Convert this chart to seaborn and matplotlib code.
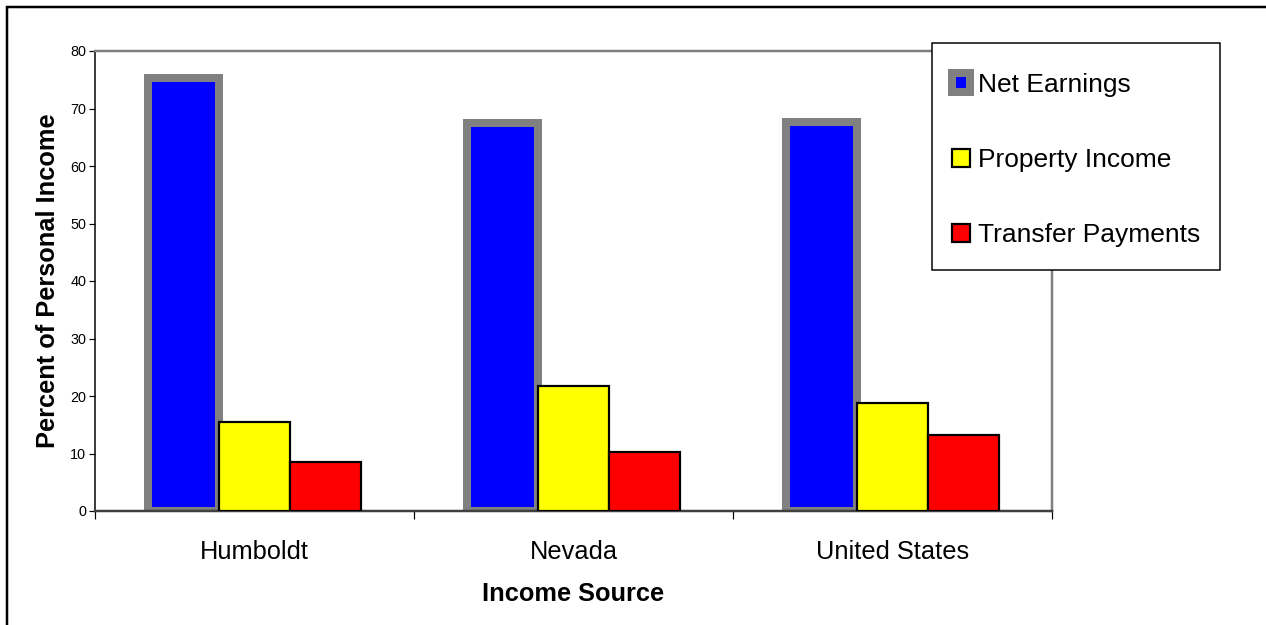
import matplotlib
matplotlib.use("Agg")
import matplotlib.pyplot as plt
from matplotlib.patches import Rectangle
import pandas as pd
import seaborn as sns

regions = ["Humboldt", "Nevada", "United States"]
sources = ["Net Earnings", "Property Income", "Transfer Payments"]
net_earnings = [75.3, 67.5, 67.7]
property_income = [15.5, 21.7, 18.7]
transfer_payments = [8.5, 10.3, 13.3]
colors = ["#0000FF", "#FFFF00", "#FF0000"]

df = pd.DataFrame({
    "Region": regions * 3,
    "Source": [s for s in sources for _ in regions],
    "Percent": net_earnings + property_income + transfer_payments,
})

sns.set_theme(style="white")
plt.rcParams["font.family"] = ["Liberation Sans", "DejaVu Sans"]
plt.rcParams["text.color"] = "black"
plt.rcParams["axes.labelcolor"] = "black"

DPI = 100
px = 72 / DPI  # points per pixel
W, H = 1266, 625
fig = plt.figure(figsize=(W / DPI, H / DPI), dpi=DPI)
ax = fig.add_axes([95 / W, 1 - 511 / H, (1052 - 95) / W, (511 - 51) / H])

sns.barplot(data=df, x="Region", y="Percent", hue="Source", order=regions,
            hue_order=sources, palette=colors, width=0.667, gap=0,
            saturation=1, legend=False, ax=ax)

# thick grey frame on the earnings bars, thin black outline on the others
for i, cont in enumerate(ax.containers):
    for bar in cont.patches:
        if i == 0:
            bar.set_edgecolor("#808080")
            bar.set_linewidth(8 * px)
        else:
            bar.set_edgecolor("black")
            bar.set_linewidth(2.2 * px)
            bar.set_zorder(3)

ax.set_xlim(-0.5, 2.5)
ax.set_ylim(0, 80)
ax.set_yticks(range(0, 81, 10))
ax.set_xticks(range(len(regions)))
ax.set_xticklabels(regions)
ax.set_xticks([-0.5, 0.5, 1.5, 2.5], minor=True)

ax.tick_params(axis="y", which="major", left=True, length=6 * px, width=1.2 * px,
               color="black", labelsize=10.4, pad=3 * px, labelcolor="black")
ax.tick_params(axis="x", which="major", bottom=True, length=0, labelsize=18.3,
               pad=29 * px, labelcolor="black")
ax.tick_params(axis="x", which="minor", bottom=True, length=8 * px, width=1.2 * px,
               color="black")

for side, col, lw in [("top", "#808080", 2.5), ("right", "#808080", 2.5),
                      ("left", "black", 1.5), ("bottom", "#404040", 2.5)]:
    ax.spines[side].set_visible(True)
    ax.spines[side].set_color(col)
    ax.spines[side].set_linewidth(lw * px)

ax.set_xlabel("Income Source", fontsize=18.3, fontweight="bold", labelpad=18 * px,
              color="black")
ax.set_ylabel("Percent of Personal Income", fontsize=18.3, fontweight="bold",
              labelpad=10 * px, color="black")

# legend box, then the legend entries placed inside it
fig.add_artist(Rectangle((932 / W, 1 - 270 / H), (1220 - 932) / W, (270 - 43) / H,
                         transform=fig.transFigure, facecolor="white",
                         edgecolor="black", linewidth=1.5 * px, zorder=4))
leg = fig.legend(handles=ax.containers, labels=sources,
                 loc="upper left", bbox_to_anchor=(932 / W, 1 - 53 / H),
                 bbox_transform=fig.transFigure, borderaxespad=0,
                 fontsize=19, frameon=False, labelcolor="black",
                 borderpad=0.75, labelspacing=1.94, handlelength=0.7,
                 handleheight=0.7, handletextpad=0.3)
leg.set_zorder(5)

# outer border along the top and left of the figure
fig.add_artist(Rectangle((7 / W, -0.1), 1.2, 1.1 - 7 / H,
                         transform=fig.transFigure, fill=False,
                         edgecolor="black", linewidth=2.5 * px, clip_on=False))

fig.savefig("out.png", dpi=DPI)
